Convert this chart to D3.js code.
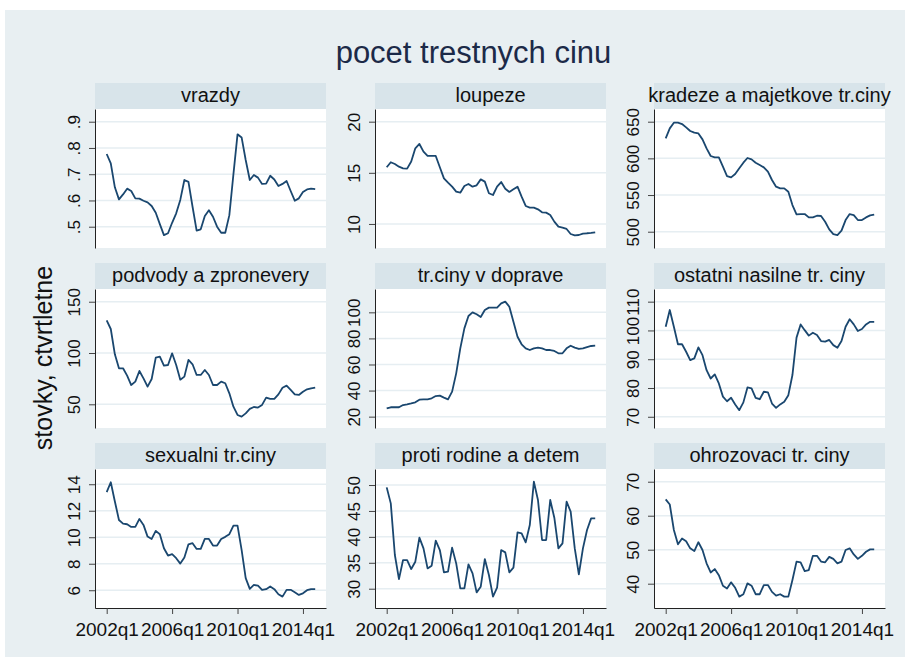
<!DOCTYPE html>
<html><head><meta charset="utf-8">
<script src="https://cdn.jsdelivr.net/npm/d3@7"></script>
<style>body{margin:0;background:#fff}svg{display:block}text{font-family:"Liberation Sans",Arial,sans-serif}</style>
</head><body><svg id="c" width="907" height="663"></svg>
<script>
const chartTitle = "pocet trestnych cinu";
const yAxisTitle = "stovky, ctvrtletne";
const startYear = 2002;
const xTickLabels = ["2002q1","2006q1","2010q1","2014q1"];
const xTickIndex = [0,16,32,48];

const panelTitles = ["vrazdy","loupeze","kradeze a majetkove tr.ciny","podvody a zpronevery","tr.ciny v doprave","ostatni nasilne tr. ciny","sexualni tr.ciny","proti rodine a detem","ohrozovaci tr. ciny"];

const vrazdy = [.777,.741,.65,.604,.623,.645,.636,.608,.607,.599,.593,.579,.553,.51,.468,.475,.515,.551,.602,.678,.671,.576,.485,.49,.541,.563,.538,.5,.477,.477,.544,.70,.852,.84,.754,.678,.697,.687,.663,.664,.694,.68,.655,.663,.674,.636,.599,.608,.632,.642,.645,.643];
const loupeze = [15.54,16.03,15.86,15.6,15.44,15.41,16.1,17.4,17.82,17.07,16.65,16.65,16.65,15.54,14.46,14.04,13.65,13.16,13.06,13.71,13.91,13.65,13.78,14.36,14.14,13.0,12.83,13.65,14.1,13.45,13.13,13.39,13.65,12.67,11.76,11.6,11.6,11.43,11.14,11.11,10.88,10.23,9.74,9.64,9.51,9.02,8.89,8.92,9.05,9.09,9.12,9.18];
const kradeze = [627.3,640.9,648.6,648.6,646.8,642.3,637.3,635,634,625.9,613.6,603.2,601.4,601.4,588.6,575.9,574.1,578.6,586.4,594.1,600.5,598.6,594.1,590.9,587.7,581.8,570.5,561.4,559.1,559.1,554.5,536.4,523.6,524.1,524.1,519.5,519.5,521.8,521.4,513.6,503.2,496.8,495.5,501.4,515.9,524.1,522.7,515.9,515.9,519.5,522.3,523.2];
const podvody = [131.8,123.4,98.7,85.1,85.1,77.9,68.8,72.1,82.5,75.3,67.2,74.7,95.5,96.4,87.7,88.3,99.7,88.3,74,77,93.2,89,78.6,78.6,83.4,78.6,68.8,68.8,72.1,70.5,60.7,47.7,39.6,38,41.2,45.5,47.4,46.8,49.4,56.5,55.2,55.2,59.7,66.2,68.2,64,59.7,59.1,62.3,64.6,65.6,66.2];
const doprava = [26.4,27.2,27.2,27.2,28.9,29.5,30.2,31,33,33.3,33.3,34.1,35.8,36.1,34.6,33.3,39.2,53.2,72.4,87.7,97.2,100,98.5,96.4,101.8,103.6,103.6,103.6,106.9,108.2,104.3,92.8,81.3,75.5,72.4,71.1,72.4,72.9,72.4,71.1,71.1,70.4,68.6,68.6,72.4,74.4,72.9,71.9,72.4,73.4,74.2,74.4];
const ostatni = [101.3,107.1,101.3,95.2,95.2,92.6,89.7,90.3,94.1,91.4,86.2,83.3,84.7,81.6,77,75.4,76.6,74.3,72.3,75,80.2,79.9,76.6,76.1,78.7,78.5,74.6,73.1,74.3,75.2,77.5,84.5,97.5,102.1,100.1,98.2,99.2,98.4,96.3,96.1,96.7,94.9,94,96.3,101.3,103.9,102.1,99.8,100.5,102.1,103,103];
const sexualni = [13.4,14.15,12.7,11.3,11.03,10.98,10.78,10.78,11.38,10.93,10.05,9.87,10.48,10.23,9.17,8.62,8.72,8.42,8.01,8.47,9.47,9.55,9.12,9.12,9.87,9.87,9.37,9.37,9.87,10.03,10.23,10.88,10.88,9.04,6.91,6.1,6.4,6.35,6.03,6.08,6.28,6.08,5.7,5.52,6.03,6.03,5.85,5.65,5.77,6,6.08,6.08];
const protiRodine = [49.55,46.46,36.5,31.86,35.53,35.53,33.8,35.21,39.84,37.78,33.92,34.44,39.26,37.46,33.15,33.28,37.91,34.89,30.06,30.06,34.69,32.96,29.29,30.39,35.72,32.64,28.46,30.19,37.46,37.01,33.15,34.05,40.87,40.68,38.94,42.28,50.64,47.11,39.39,39.39,47.11,43.7,37.78,38.75,46.78,44.86,37.78,32.77,37.78,41.32,43.57,43.57];
const ohrozovaci = [64.8,63.3,55.8,51.6,53.3,52.5,50.4,49.6,52.2,49.9,46,43.3,44.3,42.5,39.4,38.6,40.4,38.8,36.2,36.9,40.1,39.4,36.9,36.9,39.6,39.6,37.6,36.5,36.9,36.2,36.2,41.1,46.5,46.3,43.7,44,48.2,48.2,46.5,46.3,47.9,47.3,46,46.5,49.9,50.4,48.6,47.3,48.2,49.4,50.1,50.1];

const yTicks = [[.5,.6,.7,.8,.9],[10,15,20],[500,550,600,650],[50,100,150],[20,40,60,80,100],[70,80,90,100,110],[6,8,10,12,14],[30,35,40,45,50],[40,50,60,70]];
const yDomains = [[.4189,.9484],[7.65,21.24],[477.8,667.3],[26.9,162.4],[11.3,117.9],[66.1,114.4],[4.66,15.15],[26.28,53.09],[32.85,73.74]];
const series = [vrazdy,loupeze,kradeze,podvody,doprava,ostatni,sexualni,protiRodine,ohrozovaci];

const svg = d3.select("#c");
const colX = [95,375,654], rowTop = [83,263,443];
const W = 231, HH = 26, PH = 139;
const lineColor = "#1a476f";

svg.append("rect").attr("x",5).attr("y",10).attr("width",900).attr("height",647).attr("fill","#e8eff2");
svg.append("text").attr("x",473.5).attr("y",63).attr("text-anchor","middle").attr("font-size",31).attr("fill","#1c2a48").text(chartTitle);
svg.append("text").attr("transform","translate(51.5,358) rotate(-90)").attr("text-anchor","middle").attr("font-size",25).attr("fill","#111").text(yAxisTitle);

const x = d3.scaleLinear().domain([-2.86,53.64]).range([0,W]);

series.forEach((vals,i)=>{
  const col = i%3, row = Math.floor(i/3);
  const g = svg.append("g").attr("transform",`translate(${colX[col]},${rowTop[row]})`);
  g.append("rect").attr("width",W).attr("height",HH).attr("fill","#d8e4ea");
  g.append("text").attr("x",W/2).attr("y",18.5).attr("text-anchor","middle").attr("font-size",20).attr("fill","#111").text(panelTitles[i]);
  const p = g.append("g").attr("transform",`translate(0,${HH})`);
  p.append("rect").attr("width",W).attr("height",PH).attr("fill","#fff");
  const y = d3.scaleLinear().domain(yDomains[i]).range([PH,0]);
  p.selectAll("line.grid").data(yTicks[i]).join("line").attr("class","grid")
    .attr("x1",0).attr("x2",W).attr("y1",d=>y(d)).attr("y2",d=>y(d))
    .attr("stroke","#e6eef2").attr("stroke-width",1.5);
  const fmt = i===0 ? (d=>d3.format(".1f")(d).replace(/^0/,"")) : d3.format("d");
  const ax = p.append("g").call(d3.axisLeft(y).tickValues(yTicks[i]).tickSize(6).tickSizeOuter(0).tickFormat(fmt));
  ax.select(".domain").attr("stroke","#222");
  ax.selectAll(".tick line").attr("stroke","#444");
  ax.selectAll(".tick text").attr("x",0).attr("dy",0).attr("transform","translate(-15,0) rotate(-90)")
    .attr("text-anchor","middle").attr("font-size",17).attr("font-family",null).attr("fill","#111");
  p.append("path").datum(vals).attr("fill","none").attr("stroke",lineColor).attr("stroke-width",1.8)
    .attr("stroke-linejoin","round")
    .attr("d", d3.line().x((d,k)=>x(k)).y(d=>y(d)));
  if(row===2){
    const bx = p.append("g").attr("transform",`translate(0,${PH})`)
      .call(d3.axisBottom(x).tickValues(xTickIndex).tickSize(6).tickSizeOuter(0).tickFormat((d,k)=>xTickLabels[k]));
    bx.select(".domain").attr("stroke","#222");
    bx.selectAll(".tick line").attr("stroke","#444");
    bx.selectAll(".tick text").attr("y",28).attr("dy",0).attr("font-size",19).attr("font-family",null).attr("fill","#111");
  }
});
</script></body></html>
